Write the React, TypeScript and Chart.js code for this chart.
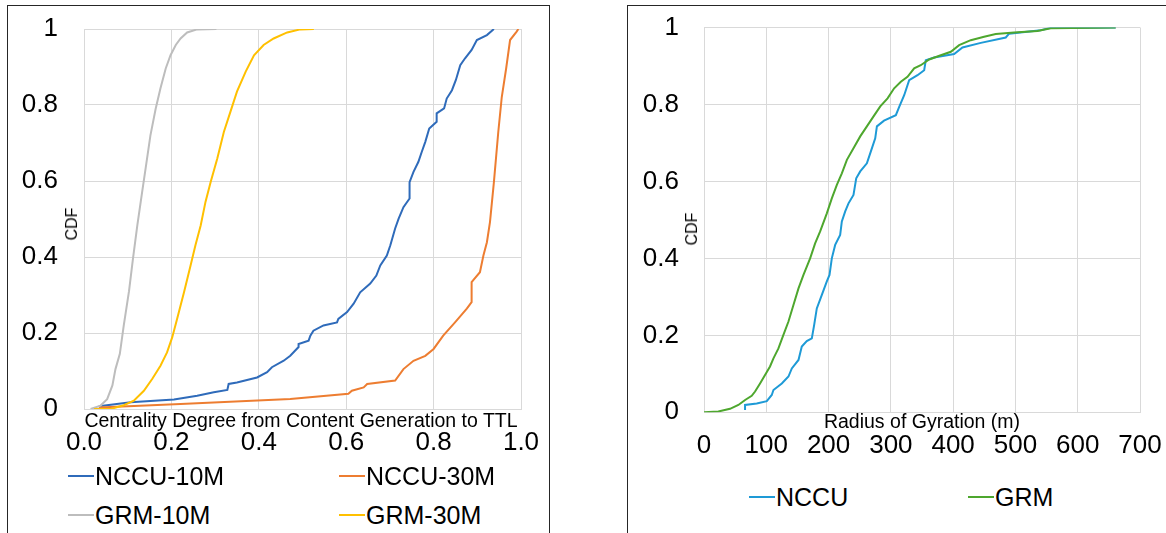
import React, { useEffect, useRef } from "react";
import { Chart, registerables } from "chart.js";

Chart.register(...registerables);

const FONT = '"Liberation Sans", Arial, Helvetica, sans-serif';

// ---------- Left chart data (Centrality degree CDF) ----------
const NCCU_10M: [number, number][] = [
  [0.034, 0.007], [0.107, 0.018], [0.206, 0.025], [0.259, 0.035], [0.297, 0.044],
  [0.328, 0.05], [0.331, 0.066], [0.35, 0.07], [0.396, 0.083], [0.419, 0.097],
  [0.43, 0.11], [0.457, 0.127], [0.472, 0.14], [0.491, 0.163], [0.491, 0.171],
  [0.514, 0.18], [0.518, 0.193], [0.525, 0.206], [0.548, 0.22], [0.579, 0.228],
  [0.582, 0.237], [0.602, 0.255], [0.617, 0.277], [0.632, 0.307], [0.655, 0.33],
  [0.669, 0.351], [0.678, 0.378], [0.693, 0.404], [0.701, 0.431], [0.712, 0.475],
  [0.72, 0.501], [0.731, 0.531], [0.745, 0.554], [0.745, 0.597], [0.754, 0.624],
  [0.765, 0.65], [0.773, 0.677], [0.781, 0.703], [0.79, 0.738], [0.807, 0.756],
  [0.807, 0.778], [0.824, 0.791], [0.83, 0.817], [0.842, 0.839], [0.851, 0.866],
  [0.861, 0.905], [0.872, 0.923], [0.887, 0.945], [0.899, 0.971], [0.922, 0.984],
  [0.938, 1.0],
];

const NCCU_30M: [number, number][] = [
  [0.034, 0.004], [0.221, 0.013], [0.472, 0.026], [0.605, 0.04], [0.613, 0.048],
  [0.64, 0.057], [0.648, 0.066], [0.712, 0.075], [0.731, 0.105], [0.754, 0.127],
  [0.781, 0.14], [0.8, 0.158], [0.822, 0.193], [0.849, 0.228], [0.876, 0.264],
  [0.887, 0.281], [0.887, 0.334], [0.906, 0.36], [0.914, 0.404], [0.922, 0.439],
  [0.929, 0.492], [0.938, 0.597], [0.948, 0.729], [0.956, 0.821], [0.966, 0.896],
  [0.975, 0.971], [0.99, 0.993], [0.994, 1.0],
];

const GRM_10M: [number, number][] = [
  [0.015, 0], [0.038, 0.009], [0.053, 0.026], [0.065, 0.062], [0.072, 0.105],
  [0.082, 0.145], [0.091, 0.22], [0.103, 0.31], [0.112, 0.395], [0.122, 0.483],
  [0.133, 0.571], [0.141, 0.633], [0.152, 0.72], [0.164, 0.79], [0.175, 0.844],
  [0.187, 0.896], [0.198, 0.931], [0.21, 0.958], [0.221, 0.975], [0.236, 0.991],
  [0.259, 0.999], [0.303, 1.0],
];

const GRM_30M: [number, number][] = [
  [0.023, 0], [0.061, 0], [0.091, 0.01], [0.114, 0.022], [0.137, 0.048],
  [0.156, 0.079], [0.175, 0.114], [0.19, 0.149], [0.202, 0.189], [0.213, 0.237],
  [0.229, 0.308], [0.244, 0.378], [0.255, 0.431], [0.267, 0.483], [0.278, 0.545],
  [0.29, 0.598], [0.305, 0.659], [0.32, 0.729], [0.335, 0.782], [0.35, 0.835],
  [0.37, 0.888], [0.389, 0.931], [0.411, 0.958], [0.434, 0.975], [0.465, 0.991],
  [0.495, 0.999], [0.526, 1.0],
];

// ---------- Right chart data (Radius of gyration CDF) ----------
const NCCU_RG: [number, number][] = [
  [65.9, 0.006], [65.9, 0.019], [84.7, 0.023], [100.8, 0.029], [108.8, 0.045],
  [111.5, 0.058], [124.9, 0.075], [135.6, 0.093], [141, 0.114], [151.7, 0.136],
  [157, 0.171], [165, 0.185], [173.1, 0.192], [176.9, 0.227], [181.1, 0.27],
  [189.2, 0.305], [197.2, 0.34], [201.5, 0.357], [205.2, 0.4], [210.6, 0.435],
  [218.6, 0.461], [221.3, 0.496], [226.7, 0.522], [232, 0.543], [240, 0.565],
  [244.4, 0.608], [250.8, 0.626], [261.5, 0.647], [267.9, 0.678], [274.9, 0.712],
  [277.6, 0.743], [289, 0.758], [308, 0.772], [313.4, 0.794], [321.4, 0.824],
  [329.4, 0.863], [342.8, 0.876], [353.5, 0.889], [356.1, 0.915], [369.5, 0.922],
  [401.6, 0.931], [415, 0.948], [444.4, 0.96], [484.5, 0.974], [489.8, 0.984],
  [540.6, 0.993], [556.7, 0.999], [661, 1.0],
];

const GRM_RG: [number, number][] = [
  [0, 0], [23, 0.002], [41.8, 0.009], [55.2, 0.019], [66, 0.032], [76.6, 0.043],
  [82, 0.054], [90, 0.075], [98, 0.097], [106, 0.119], [111.5, 0.14], [119.5, 0.166],
  [127.5, 0.201], [135.6, 0.236], [143.6, 0.279], [151.7, 0.322], [159.7, 0.357],
  [170.4, 0.4], [178.4, 0.439], [186.5, 0.47], [197.2, 0.517], [205.2, 0.556],
  [213.3, 0.591], [221.3, 0.621], [229.4, 0.656], [240, 0.686], [250.8, 0.717],
  [261.5, 0.743], [272.2, 0.769], [283, 0.795], [294.7, 0.816], [305.3, 0.842],
  [316, 0.859], [326.7, 0.872], [337.4, 0.894], [348, 0.902], [361.5, 0.917],
  [380.2, 0.928], [396.3, 0.937], [409.6, 0.954], [428.3, 0.967], [449.7, 0.976],
  [468.4, 0.983], [497.9, 0.987], [535.3, 0.991], [556.7, 0.998], [661, 1.0],
];

// ---------- Labels ----------
const LEFT_X_TITLE = "Centrality Degree from Content Generation to TTL";
const RIGHT_X_TITLE = "Radius of Gyration (m)";
const Y_TITLE = "CDF";

const LEFT_SERIES = [
  { label: "NCCU-10M", data: NCCU_10M, color: "#2F6BBA" },
  { label: "NCCU-30M", data: NCCU_30M, color: "#ED7D31" },
  { label: "GRM-10M", data: GRM_10M, color: "#BDBDBD" },
  { label: "GRM-30M", data: GRM_30M, color: "#FFC000" },
];

const RIGHT_SERIES = [
  { label: "NCCU", data: NCCU_RG, color: "#1E9AD6" },
  { label: "GRM", data: GRM_RG, color: "#4EA72E" },
];

const GRID = "#d9d9d9";

type Cfg = {
  series: { label: string; data: [number, number][]; color: string }[];
  xMin: number;
  xMax: number;
  xStep: number;
  xFmt: (v: number) => string;
  yWidth: number;
  xHeight: number;
  yPad: number;
  xPad: number;
  padding: { top: number; right: number; left: number; bottom: number };
  width: number;
  height: number;
};

function zeroPad(s: any) {
  s.paddingTop = 0;
  s.paddingBottom = 0;
  s.paddingLeft = 0;
  s.paddingRight = 0;
}

function CdfChart(props: Cfg) {
  const ref = useRef<HTMLCanvasElement | null>(null);
  useEffect(() => {
    if (!ref.current) return;
    const n = props.series.length;
    const chart = new Chart(ref.current, {
      type: "line",
      data: {
        datasets: props.series.map((s, i) => ({
          label: s.label,
          data: s.data.map(([x, y]) => ({ x, y })),
          borderColor: s.color,
          backgroundColor: s.color,
          borderWidth: 2,
          pointRadius: 0,
          tension: 0,
          fill: false,
          order: n - i,
        })),
      },
      options: {
        responsive: false,
        animation: false,
        events: [],
        layout: { padding: props.padding },
        plugins: { legend: { display: false }, tooltip: { enabled: false } },
        scales: {
          x: {
            type: "linear",
            min: props.xMin,
            max: props.xMax,
            afterFit: (s: any) => {
              s.height = props.xHeight;
              zeroPad(s);
            },
            ticks: {
              stepSize: props.xStep,
              color: "#000",
              font: { family: FONT, size: 26 },
              padding: props.xPad,
              maxRotation: 0,
              callback: (v: any) => props.xFmt(Number(v)),
            },
            grid: { color: GRID, lineWidth: 1, drawTicks: false },
            border: { color: GRID },
          },
          y: {
            type: "linear",
            min: 0,
            max: 1,
            afterFit: (s: any) => {
              s.width = props.yWidth;
              zeroPad(s);
            },
            ticks: {
              stepSize: 0.2,
              color: "#000",
              font: { family: FONT, size: 26 },
              padding: props.yPad,
              callback: (v: any) => String(Math.round(Number(v) * 10) / 10),
            },
            grid: { color: GRID, lineWidth: 1, drawTicks: false },
            border: { color: GRID },
          },
        },
      },
    });
    return () => chart.destroy();
  }, []);
  return <canvas ref={ref} width={props.width} height={props.height} style={{ width: props.width, height: props.height, display: "block" }} />;
}

function LegendItem({ x, y, color, label }: { x: number; y: number; color: string; label: string }) {
  return (
    <div
      style={{
        position: "absolute",
        left: x,
        top: y - 15,
        height: 30,
        display: "flex",
        alignItems: "center",
        fontFamily: FONT,
        fontSize: 25,
        lineHeight: "30px",
        color: "#000",
        whiteSpace: "nowrap",
      }}
    >
      <div style={{ width: 26, height: 2, background: color }} />
      <span style={{ marginLeft: 1 }}>{label}</span>
    </div>
  );
}

function XTitle({ cx, top, text }: { cx: number; top: number; text: string }) {
  return (
    <div
      style={{
        position: "absolute",
        left: cx,
        top,
        transform: "translateX(-50%)",
        fontFamily: FONT,
        fontSize: 19.5,
        lineHeight: "20px",
        color: "#000",
        whiteSpace: "nowrap",
      }}
    >
      {text}
    </div>
  );
}

function YTitle({ cx, cy, text }: { cx: number; cy: number; text: string }) {
  return (
    <div
      style={{
        position: "absolute",
        left: cx,
        top: cy,
        transform: "translate(-50%, -50%) rotate(-90deg)",
        fontFamily: FONT,
        fontSize: 16,
        lineHeight: "16px",
        color: "#000",
        whiteSpace: "nowrap",
      }}
    >
      {text}
    </div>
  );
}

export default function App() {
  return (
    <div style={{ position: "absolute", left: 0, top: 0, width: 1166, height: 533, overflow: "hidden", background: "#fff" }}>
      {/* panel borders */}
      <div style={{ position: "absolute", left: 7, top: 5, width: 543, height: 528, boxSizing: "border-box", border: "1px solid #262626", borderBottom: "none" }} />
      <div style={{ position: "absolute", left: 627, top: 5, width: 539, height: 528, boxSizing: "border-box", borderLeft: "1px solid #262626", borderTop: "1px solid #262626" }} />

      {/* left chart */}
      <div style={{ position: "absolute", left: 8, top: 6 }}>
        <CdfChart
          series={LEFT_SERIES}
          xMin={0}
          xMax={1}
          xStep={0.2}
          xFmt={(v) => v.toFixed(1)}
          yWidth={76}
          xHeight={57}
          yPad={26}
          xPad={18}
          padding={{ top: 23, right: 27, left: 0, bottom: 0 }}
          width={540}
          height={460}
        />
      </div>
      <YTitle cx={72} cy={224} text={Y_TITLE} />
      <XTitle cx={301} top={410} text={LEFT_X_TITLE} />
      <LegendItem x={68} y={476} color={LEFT_SERIES[0].color} label={LEFT_SERIES[0].label} />
      <LegendItem x={339} y={476} color={LEFT_SERIES[1].color} label={LEFT_SERIES[1].label} />
      <LegendItem x={68} y={515} color={LEFT_SERIES[2].color} label={LEFT_SERIES[2].label} />
      <LegendItem x={339} y={515} color={LEFT_SERIES[3].color} label={LEFT_SERIES[3].label} />

      {/* right chart */}
      <div style={{ position: "absolute", left: 630, top: 6 }}>
        <CdfChart
          series={RIGHT_SERIES}
          xMin={0}
          xMax={700}
          xStep={100}
          xFmt={(v) => String(Math.round(v))}
          yWidth={74}
          xHeight={63.7}
          yPad={25}
          xPad={18}
          padding={{ top: 21.5, right: 26, left: 0, bottom: 0 }}
          width={536}
          height={470}
        />
      </div>
      <YTitle cx={692} cy={229} text={Y_TITLE} />
      <XTitle cx={922} top={411} text={RIGHT_X_TITLE} />
      <LegendItem x={749} y={497} color={RIGHT_SERIES[0].color} label={RIGHT_SERIES[0].label} />
      <LegendItem x={968} y={497} color={RIGHT_SERIES[1].color} label={RIGHT_SERIES[1].label} />
    </div>
  );
}
